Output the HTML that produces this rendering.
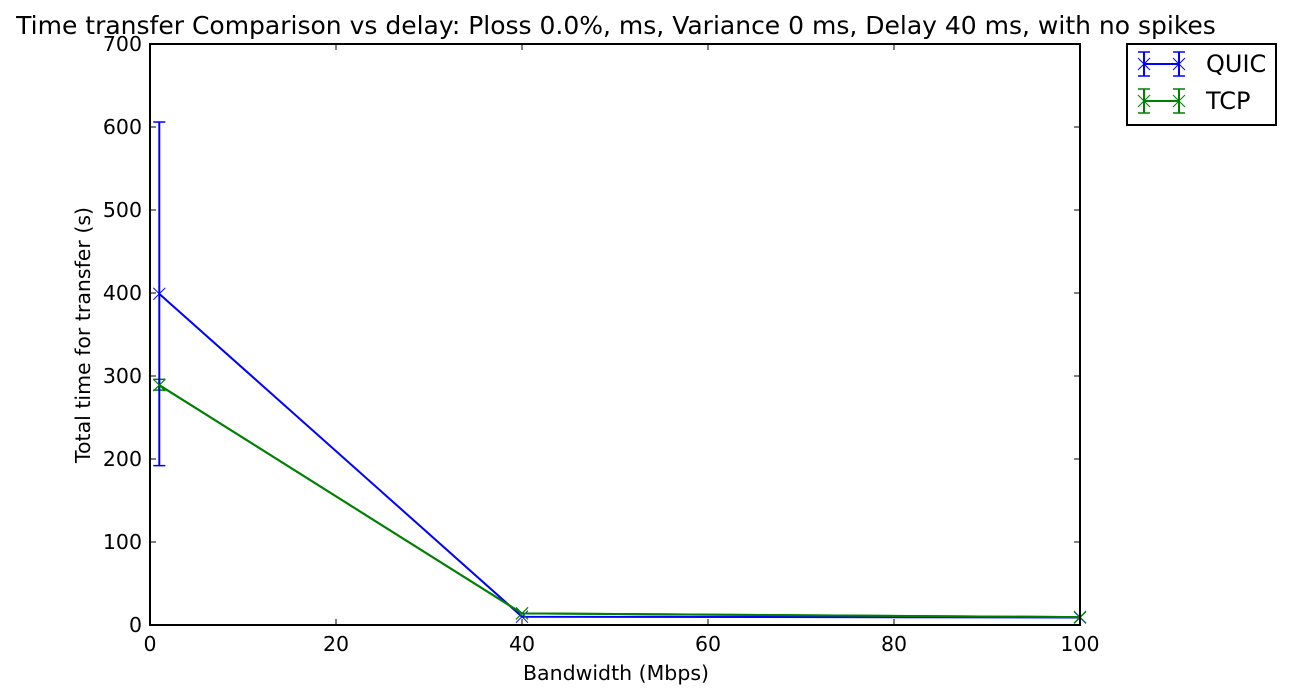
<!DOCTYPE html>
<html><head><meta charset="utf-8"><style>
body{margin:0;background:#fff;}
svg{display:block;font-family:"DejaVu Sans","Liberation Sans",sans-serif;}
</style></head><body>
<svg id="c" width="1292" height="699" xmlns="http://www.w3.org/2000/svg"></svg>
<script>
const categories=[1,40,100];
const quicValues=[399,10,9];
const quicErrLow=[192,10,9];
const quicErrHigh=[606,10,9];
const tcpValues=[289,14,9.5];
const tcpErrLow=[283,14,9.5];
const tcpErrHigh=[296,14,9.5];
const xTicks=[0,20,40,60,80,100];
const yTicks=[0,100,200,300,400,500,600,700];

const L=150,R=1080,T=44,B=625;
const xs=v=>L+(v-0)/(100-0)*(R-L);
const ys=v=>B-(v-0)/(700-0)*(B-T);
const svg=document.getElementById('c');
const NS='http://www.w3.org/2000/svg';
function mk(tag,attrs,parent){const e=document.createElementNS(NS,tag);for(const k in attrs)e.setAttribute(k,attrs[k]);(parent||svg).appendChild(e);return e;}

let t=mk('text',{x:616,y:34,'font-size':25,'text-anchor':'middle',fill:'#000'});
t.textContent='Time transfer Comparison vs delay: Ploss 0.0%, ms, Variance 0 ms, Delay 40 ms, with no spikes';



const gx=mk('g',{});


xTicks.forEach(v=>{
  const x=xs(v);
  mk('line',{x1:x,y1:B,x2:x,y2:B-6,stroke:'#000'},gx);
  mk('line',{x1:x,y1:T,x2:x,y2:T+6,stroke:'#000'},gx);
  const tx=mk('text',{x:x,y:B+26,'font-size':20.5,'text-anchor':'middle'},gx);
  tx.textContent=v;
  
  
});
const gy=mk('g',{});


yTicks.forEach(v=>{
  const y=ys(v);
  mk('line',{x1:L,y1:y,x2:L+6,y2:y,stroke:'#000'},gy);
  mk('line',{x1:R,y1:y,x2:R-6,y2:y,stroke:'#000'},gy);
  const tx=mk('text',{x:L-8,y:y+7,'font-size':20.5,'text-anchor':'end'},gy);
  tx.textContent=v;
  
  
});
let xl=mk('text',{x:616,y:680,'font-size':20.5,'text-anchor':'middle'});
xl.textContent='Bandwidth (Mbps)';


let yl=mk('text',{x:0,y:0,'font-size':20.5,'text-anchor':'middle',transform:'translate(90,335) rotate(-90)'});
yl.textContent='Total time for transfer (s)';



function marker(x,y,c,g){
  mk('line',{x1:x-6,y1:y-6,x2:x+6,y2:y+6,stroke:c,'stroke-width':1},g);
  mk('line',{x1:x-6,y1:y+6,x2:x+6,y2:y-6,stroke:c,'stroke-width':1},g);
}
function series(name,vals,lo,hi,c){
  const g=mk('g',{});
  
  
  const pts=categories.map((v,i)=>xs(v)+','+ys(vals[i])).join(' ');
  const pl=mk('polyline',{points:pts,fill:'none',stroke:c,'stroke-width':2},g);
  
  
  categories.forEach((v,i)=>{
    const x=xs(v);
    if(hi[i]!==lo[i]){
      const eb=mk('g',{},g);
      
      
      mk('line',{x1:x,y1:ys(lo[i]),x2:x,y2:ys(hi[i]),stroke:c,'stroke-width':2},eb);
      mk('line',{x1:x-6,y1:ys(lo[i]),x2:x+6,y2:ys(lo[i]),stroke:c,'stroke-width':1.5},eb);
      mk('line',{x1:x-6,y1:ys(hi[i]),x2:x+6,y2:ys(hi[i]),stroke:c,'stroke-width':1.5},eb);
    }
    marker(x,ys(vals[i]),c,g);
  });
}
series('tcp',tcpValues,tcpErrLow,tcpErrHigh,'#008000');
series('quic',quicValues,quicErrLow,quicErrHigh,'#0000ff');
(function(){
  const pts=categories.map((v,i)=>xs(v)+','+ys(tcpValues[i])).join(' ');
  const pl=mk('polyline',{points:pts,fill:'none',stroke:'#008000','stroke-width':2});
  
  
  categories.forEach((v,i)=>marker(xs(v),ys(tcpValues[i]),'#008000'));
})();

const fr=mk('rect',{x:L,y:T,width:R-L,height:B-T,fill:'none',stroke:'#000','stroke-width':2});



const lg=mk('g',{});


mk('rect',{x:1127,y:44,width:149,height:81,fill:'#fff',stroke:'#000','stroke-width':2},lg);
[['QUIC','#0000ff',64],['TCP','#008000',101]].forEach(([n,c,y])=>{
  const e=mk('g',{},lg);
  
  
  mk('line',{x1:1144,y1:y,x2:1179,y2:y,stroke:c,'stroke-width':2},e);
  [1144,1179].forEach(x=>{
    mk('line',{x1:x,y1:y-12,x2:x,y2:y+12,stroke:c,'stroke-width':2},e);
    mk('line',{x1:x-6,y1:y-12,x2:x+6,y2:y-12,stroke:c,'stroke-width':1.5},e);
    mk('line',{x1:x-6,y1:y+12,x2:x+6,y2:y+12,stroke:c,'stroke-width':1.5},e);
    marker(x,y,c,e);
  });
  const tx=mk('text',{x:1206,y:y+8,'font-size':24,},e);
  tx.textContent=n;
});
</script>
</body></html>
